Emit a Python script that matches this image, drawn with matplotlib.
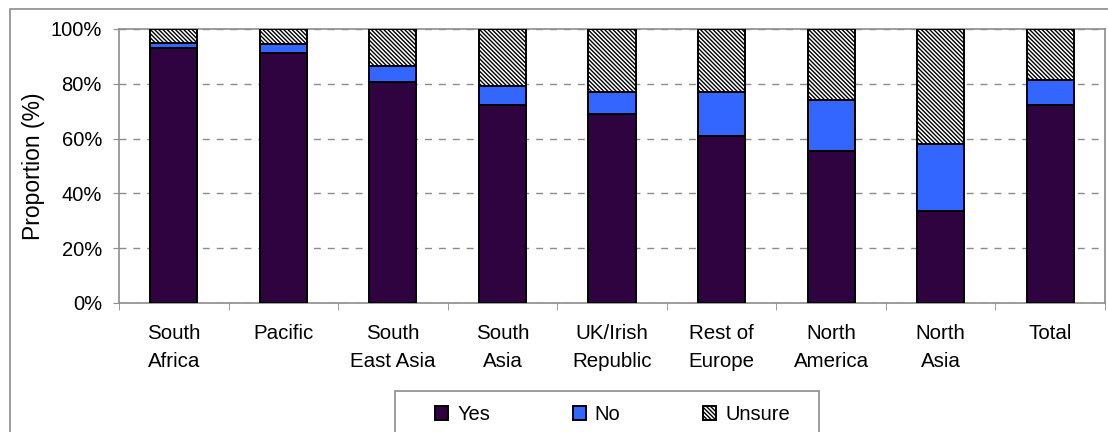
import numpy as np
import matplotlib.pyplot as plt
from matplotlib.patches import Rectangle

plt.rcParams['font.family'] = ['Liberation Sans', 'DejaVu Sans']
plt.rcParams['hatch.linewidth'] = 1.0

regions = ["South\nAfrica", "Pacific", "South\nEast Asia", "South\nAsia",
           "UK/Irish\nRepublic", "Rest of\nEurope", "North\nAmerica",
           "North\nAsia", "Total"]
yes = [93.2, 91.1, 80.8, 72.1, 69.1, 61.1, 55.4, 33.6, 72.1]
no = [1.6, 3.5, 5.8, 7.2, 7.9, 15.9, 18.8, 24.5, 9.4]
unsure = [100 - y - n for y, n in zip(yes, no)]

GREY = '#8c8c8c'

fig = plt.figure(figsize=(11.08, 4.32), dpi=100)
ax = fig.add_axes([119 / 1108, 1 - 303 / 432, 986 / 1108, 274 / 432])

# outer chart frame and legend box
fig.patches.append(Rectangle((10 / 1108, -0.1), 1.2, 1 - 9 / 432 + 0.1,
                             transform=fig.transFigure, fill=False,
                             edgecolor=GREY, linewidth=1.2, zorder=0))
fig.patches.append(Rectangle((395 / 1108, -0.1), 424 / 1108,
                             0.1 + 1 - 391 / 432,
                             transform=fig.transFigure, fill=False,
                             edgecolor=GREY, linewidth=1.2, zorder=0))

x = np.arange(len(regions))
w = 0.43
ax.bar(x, yes, w, color='#2e0340', edgecolor='black', linewidth=1.4,
       label='Yes', zorder=3)
ax.bar(x, no, w, bottom=yes, color='#3366ff', edgecolor='black',
       linewidth=1.4, label='No', zorder=3)
ax.bar(x, unsure, w, bottom=np.array(yes) + np.array(no), color='white',
       edgecolor='black', hatch='\\' * 8, linewidth=1.4, label='Unsure',
       zorder=3)

ax.set_xlim(-0.5, len(regions) - 0.5)
ax.set_ylim(0, 100)
ax.set_yticks(np.arange(0, 101, 20))
ax.set_yticklabels([f"{v}%" for v in range(0, 101, 20)], fontsize=14.5)
ax.set_xticks(x)
ax.set_xticklabels(regions, fontsize=14.8, linespacing=1.6)
for lbl in ax.get_xticklabels():
    lbl.set_multialignment('center')
ax.tick_params(axis='x', length=0, pad=15)
ax.set_xticks(np.arange(-0.5, len(regions)), minor=True)
ax.tick_params(axis='x', which='minor', length=4.8, color=GREY)
ax.tick_params(axis='y', length=4.3, color=GREY, pad=8)
ax.yaxis.grid(True, linestyle=(0, (5, 5)), color=GREY, linewidth=1,
              zorder=0)
for s in ax.spines.values():
    s.set_color(GREY)
    s.set_linewidth(1.2)

ax.set_ylabel("Proportion (%)", fontsize=16.5)
ax.yaxis.set_label_coords(-0.075, 0.5)

fig.legend(loc='upper left', bbox_to_anchor=(435 / 1108, 1 - 405 / 432),
           ncol=3, fontsize=14.5, frameon=False,
           handlelength=0.65, handleheight=0.65,
           handletextpad=0.45, columnspacing=4.1, borderpad=0,
           borderaxespad=0)

fig.savefig("out.png", dpi=100)
